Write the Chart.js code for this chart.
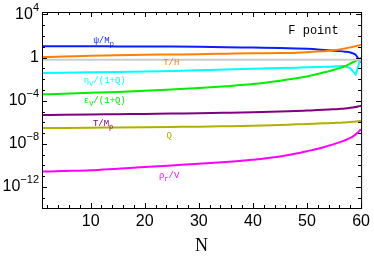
<!DOCTYPE html>
<html>
<head>
<meta charset="utf-8">
<script src="https://cdn.jsdelivr.net/npm/chart.js@4.4.0/dist/chart.umd.min.js"></script>
<style>
  html, body { margin: 0; padding: 0; background: #fff; }
</style>
</head>
<body>
<canvas id="chart" width="374" height="256"></canvas>
<script>
// number of e-folds
const efolds = [1, 5, 10, 15, 20, 25, 30, 35, 40, 45, 48, 50, 52, 54, 55, 56, 57, 58, 58.5, 59, 59.4, 59.7, 60];

const psiOverMp = [11.5, 11.5, 11.2, 11.0, 10.7, 10.5, 10.0, 9.3, 8.5, 7.8, 7.1, 6.5, 5.75, 4.8, 4.4, 4.0, 3.55, 3.0, 2.5, 1.78, 0.93, 0.52, 0.38];
const tOverH = [1.12, 1.26, 1.48, 1.66, 1.82, 1.95, 2.09, 2.29, 2.51, 2.69, 2.88, 3.16, 3.63, 4.37, 5.0, 5.75, 7.08, 8.9, 10.0, 11.5, 12.9, 14.1, 15.8];
const refLine = efolds.map(() => 0.63);
const etaV = [0.038, 0.040, 0.043, 0.047, 0.051, 0.058, 0.066, 0.078, 0.091, 0.107, 0.117, 0.126, 0.135, 0.145, 0.151, 0.158, 0.166, 0.1, 0.052, 0.028, 0.126, 0.38, 0.71];
const epsV = [3.9e-4, 4.5e-4, 5.4e-4, 6.6e-4, 8.3e-4, 1.1e-3, 1.5e-3, 2.2e-3, 3.5e-3, 7.1e-3, 0.012, 0.018, 0.030, 0.054, 0.074, 0.105, 0.158, 0.28, 0.37, 0.5, 0.65, 0.79, 1.0];
const tOverMp = [4.7e-6, 4.9e-6, 5.2e-6, 5.6e-6, 6.0e-6, 6.5e-6, 6.9e-6, 7.6e-6, 8.5e-6, 1.0e-5, 1.12e-5, 1.23e-5, 1.35e-5, 1.51e-5, 1.62e-5, 1.74e-5, 1.9e-5, 2.19e-5, 2.4e-5, 2.63e-5, 2.88e-5, 3.16e-5, 3.39e-5];
const qValues = [2.9e-7, 2.95e-7, 3.1e-7, 3.3e-7, 3.5e-7, 3.7e-7, 3.9e-7, 4.3e-7, 4.8e-7, 5.6e-7, 6.5e-7, 6.9e-7, 7.6e-7, 8.3e-7, 8.7e-7, 9.1e-7, 9.8e-7, 1.05e-6, 1.1e-6, 1.17e-6, 1.23e-6, 1.29e-6, 1.35e-6];
const rhoROverV = [2.7e-11, 3.0e-11, 3.5e-11, 5.0e-11, 7.1e-11, 1.0e-10, 1.4e-10, 2.1e-10, 3.3e-10, 6.6e-10, 1.26e-9, 2.1e-9, 3.5e-9, 6.8e-9, 9.5e-9, 1.38e-8, 2.1e-8, 3.5e-8, 5.0e-8, 7.6e-8, 1.12e-7, 1.6e-7, 2.2e-7];

const xTickLabels = [10, 20, 30, 40, 50, 60];
const yTickExponents = [-12, -8, -4, 0, 4];

const series = [
  { values: refLine, color: "#cccccc" },
  { values: qValues, color: "#b0b000" },
  { values: tOverMp, color: "#800080" },
  { values: rhoROverV, color: "#ff00ff" },
  { values: epsV, color: "#00ee00" },
  { values: etaV, color: "#00ffff", sharp: true },
  { values: tOverH, color: "#ff8000" },
  { values: psiOverMp, color: "#0a1eff" },
];

// curve labels, anchored in data coordinates (N, value)
const curveLabels = [
  { parts: [["ψ/M"], ["p", 1]], color: "#0a1eff", n: 12.4, v: 38 },
  { parts: [["T/H"]], color: "#ff8000", n: 24.9, v: 0.34 },
  { parts: [["η"], ["V", 1], ["/(1+Q)"]], color: "#00ffff", n: 12.6, v: 7.2e-3 },
  { parts: [["ε"], ["V", 1], ["/(1+Q)"]], color: "#00ee00", n: 12.6, v: 1e-4 },
  { parts: [["T/M"], ["p", 1]], color: "#800080", n: 12.3, v: 7.2e-7 },
  { parts: [["Q"]], color: "#b0b000", n: 24.5, v: 5.5e-8 },
  { parts: [["ρ"], ["r", 1], ["/V"]], color: "#ff00ff", n: 24.5, v: 1.05e-11 },
  { parts: [["F point"]], color: "#000000", n: 51.2, v: 324, size: 12 },
];

function drawParts(ctx, parts, cx, cy, color, size) {
  const fontFor = (sub) => (sub ? Math.round(size * 0.8) : size) + 'px "Liberation Mono", "DejaVu Sans Mono", monospace';
  let w = 0;
  parts.forEach(p => { ctx.font = fontFor(p[1]); w += ctx.measureText(p[0]).width; });
  let x = cx - w / 2;
  ctx.fillStyle = color;
  ctx.textAlign = "left";
  ctx.textBaseline = "middle";
  parts.forEach(p => {
    ctx.font = fontFor(p[1]);
    ctx.fillText(p[0], x, cy + (p[1] ? size * 0.35 : 0));
    x += ctx.measureText(p[0]).width;
  });
}

const framePlugin = {
  id: "frame",
  afterDatasetsDraw(chart) {
    const { ctx, chartArea: a, scales } = chart;
    const xs = scales.x, ys = scales.y;
    ctx.save();
    ctx.strokeStyle = "#000";
    ctx.lineWidth = 1;
    ctx.strokeRect(a.left + 0.5, a.top + 0.5, a.right - a.left, a.bottom - a.top);

    ctx.beginPath();
    for (let n = 2; n <= 60; n += 2) {
      const px = Math.round(xs.getPixelForValue(n)) + 0.5;
      const len = n % 10 === 0 ? 5 : 3;
      ctx.moveTo(px, a.bottom); ctx.lineTo(px, a.bottom - len);
      ctx.moveTo(px, a.top); ctx.lineTo(px, a.top + len);
    }
    for (let e = -13; e <= 4; e++) {
      const py = Math.round(ys.getPixelForValue(Math.pow(10, e))) + 0.5;
      const len = e % 4 === 0 ? 5 : 3;
      ctx.moveTo(a.left, py); ctx.lineTo(a.left + len, py);
      ctx.moveTo(a.right, py); ctx.lineTo(a.right - len, py);
    }
    ctx.stroke();

    // y tick labels
    ctx.fillStyle = "#000";
    ctx.textBaseline = "middle";
    yTickExponents.forEach(e => {
      const py = ys.getPixelForValue(Math.pow(10, e));
      const right = a.left - 3;
      if (e === 0) {
        ctx.font = '16px "Liberation Sans", Arial, sans-serif';
        ctx.textAlign = "right";
        ctx.fillText("1", right, py);
        return;
      }
      const sup = (e < 0 ? "\u2212" : "") + Math.abs(e);
      ctx.font = '11px "Liberation Sans", Arial, sans-serif';
      const sw = ctx.measureText(sup).width;
      ctx.textAlign = "left";
      ctx.fillText(sup, right - sw, py - 7);
      ctx.font = '16px "Liberation Sans", Arial, sans-serif';
      ctx.textAlign = "right";
      ctx.fillText("10", right - sw, py);
    });

    curveLabels.forEach(l => {
      drawParts(ctx, l.parts, xs.getPixelForValue(l.n), ys.getPixelForValue(l.v), l.color, l.size || 9);
    });
    ctx.restore();
  }
};

new Chart(document.getElementById("chart"), {
  type: "line",
  data: {
    labels: efolds,
    datasets: series.map(s => ({
      data: efolds.map((n, i) => ({ x: n, y: s.values[i] })),
      borderColor: s.color,
      borderWidth: 2,
      pointRadius: 0,
      fill: false,
      tension: 0,
      cubicInterpolationMode: s.sharp ? "default" : "monotone",
    })),
  },
  options: {
    responsive: false,
    devicePixelRatio: 1,
    animation: false,
    layout: { padding: { top: 12, right: 11, left: 0, bottom: 0 } },
    plugins: { legend: { display: false }, tooltip: { enabled: false } },
    scales: {
      x: {
        type: "linear",
        min: 1,
        max: 60,
        afterBuildTicks: s => { s.ticks = xTickLabels.map(v => ({ value: v })); },
        ticks: {
          autoSkip: false,
          maxRotation: 0,
          padding: 4,
          color: "#000",
          font: { family: '"Liberation Sans", Arial, sans-serif', size: 16 },
        },
        grid: { display: false, drawTicks: false },
        border: { display: false },
        title: {
          display: true,
          text: "N",
          color: "#000",
          font: { family: '"Liberation Serif", "Times New Roman", serif', size: 18, lineHeight: 1 },
          padding: { top: 0, bottom: 1 },
        },
        afterFit: s => { s.height = 48; },
      },
      y: {
        type: "logarithmic",
        min: 1.12e-14,
        max: 1.7e4,
        ticks: { display: false },
        grid: { display: false, drawTicks: false },
        border: { display: false },
        afterFit: s => { s.width = 42; },
      },
    },
  },
  plugins: [framePlugin],
});
</script>
</body>
</html>
